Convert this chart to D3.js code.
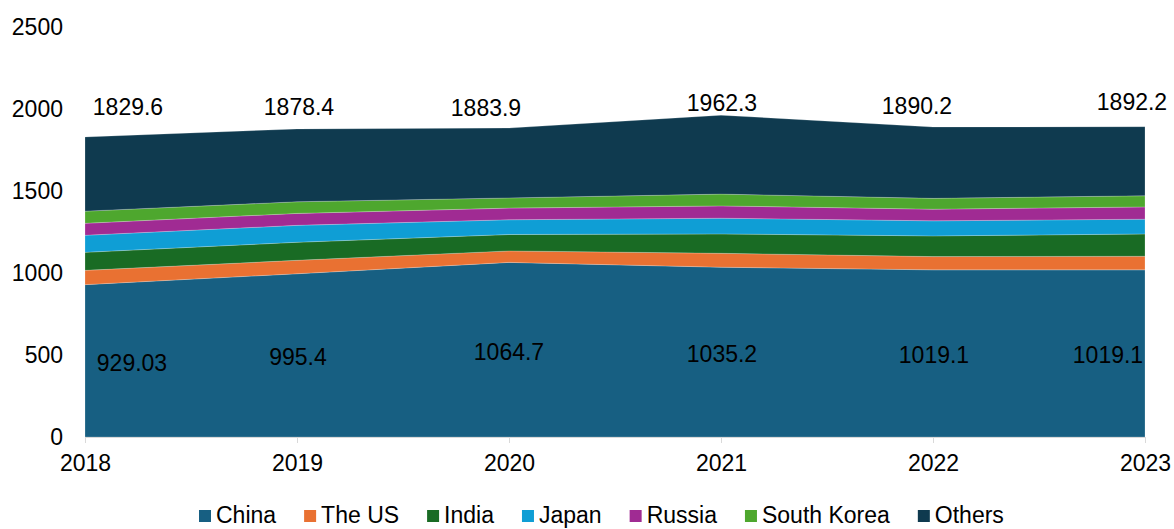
<!DOCTYPE html>
<html>
<head>
  <title>Stacked Area</title>
  <style type="text/css">
    body { margin: 0; background: #fff; }
    svg { display: block; font-family: "Liberation Sans", Arial, sans-serif; }
    .tick text { font-size: 23px; fill: #000; }
  </style>
</head>
<body>
<svg id='vis' width="1174" height="529"></svg>

<script src="https://cdnjs.cloudflare.com/ajax/libs/d3/7.8.5/d3.min.js"></script>
<script type="text/javascript">
  // data
  var years = ['2018', '2019', '2020', '2021', '2022', '2023']
  var seriesNames = ['China', 'The US', 'India', 'Japan', 'Russia', 'South Korea', 'Others']
  var china = [929.03, 995.4, 1064.7, 1035.2, 1019.1, 1019.1]
  var theUS = [87, 82, 70, 85, 81, 83]
  var india = [110, 110, 100, 118, 126, 136]
  var japan = [104, 103, 90, 96, 92, 90]
  var russia = [73, 73, 71, 75, 71, 75]
  var southKorea = [74, 71, 62, 72, 66, 68]
  var others = [452.6, 444.0, 426.2, 481.1, 435.1, 421.1]
  var totals = [1829.6, 1878.4, 1883.9, 1962.3, 1890.2, 1892.2]
  var yTicks = [0, 500, 1000, 1500, 2000, 2500]

  var colors = ['#175F82', '#E97132', '#196B24', '#0F9ED5', '#A02B93', '#4EA72E', '#0F3A4F']

  // label nudges (pixels), Excel puts them a bit off
  var totalNudge = [[43, -30], [2, -22], [-23, -20], [1, -12], [-16, -21], [-13, -25]]
  var chinaNudge = [47, 1, 0, 1, 1, -37]

  var svg = d3.select('#vis')
  var margin = { top: 27, right: 29, bottom: 92, left: 85 }
  var width = +svg.attr('width'), height = +svg.attr('height')

  var xScale = d3.scalePoint()
    .domain(years)
    .range([margin.left, width - margin.right])

  var yScale = d3.scaleLinear()
    .domain([0, 2500])
    .range([height - margin.bottom, margin.top])

  var allSeries = [china, theUS, india, japan, russia, southKorea, others]
  var table = years.map(function(y, i) {
    var row = { year: y }
    seriesNames.forEach(function(n, j) { row[n] = allSeries[j][i] })
    return row
  })

  var stacked = d3.stack().keys(seriesNames)(table)

  var area = d3.area()
    .x(function(d) { return xScale(d.data.year) })
    .y0(function(d) { return yScale(d[0]) })
    .y1(function(d) { return yScale(d[1]) })

  svg.append('g')
    .selectAll('path')
    .data(stacked)
    .enter().append('path')
      .attr('d', area)
      .attr('fill', function(d, i) { return colors[i] })
      .attr('stroke', 'rgba(255,255,255,0.35)')
      .attr('stroke-width', 0.6)

  // x axis
  var xAxis = svg.append('g')
    .attr('transform', 'translate(0,' + yScale(0) + ')')
    .call(d3.axisBottom(xScale).tickSize(6).tickPadding(12))
  xAxis.select('.domain').attr('stroke', '#d9d9d9')
  xAxis.selectAll('.tick line').attr('stroke', '#d9d9d9')

  // y axis, labels only
  var yAxis = svg.append('g')
    .attr('transform', 'translate(' + (margin.left - 22) + ',0)')
    .call(d3.axisLeft(yScale).tickValues(yTicks).tickFormat(d3.format('d')).tickSize(0).tickPadding(0))
  yAxis.select('.domain').remove()

  // data labels
  svg.append('g').selectAll('text')
    .data(totals)
    .enter().append('text')
      .attr('x', function(d, i) { return xScale(years[i]) + totalNudge[i][0] })
      .attr('y', function(d, i) { return yScale(d) + totalNudge[i][1] })
      .attr('dy', '0.35em')
      .attr('text-anchor', 'middle')
      .style('font-size', '23px')
      .text(function(d) { return d })

  svg.append('g').selectAll('text')
    .data(china)
    .enter().append('text')
      .attr('x', function(d, i) { return xScale(years[i]) + chinaNudge[i] })
      .attr('y', function(d) { return yScale(d / 2) + 2 })
      .attr('dy', '0.35em')
      .attr('text-anchor', 'middle')
      .style('font-size', '23px')
      .text(function(d) { return d })

  // legend
  var legend = svg.append('g').attr('transform', 'translate(0,515)')
  var lx = 199
  seriesNames.forEach(function(n, i) {
    var g = legend.append('g').attr('transform', 'translate(' + lx + ',0)')
    g.append('rect')
      .attr('x', 0).attr('y', -5)
      .attr('width', 12).attr('height', 12)
      .attr('fill', colors[i])
    var t = g.append('text')
      .attr('x', 17)
      .attr('dy', '0.35em')
      .style('font-size', '23px')
      .text(n)
    lx += 17 + t.node().getComputedTextLength() + 28
  })
</script>
</body>
</html>
